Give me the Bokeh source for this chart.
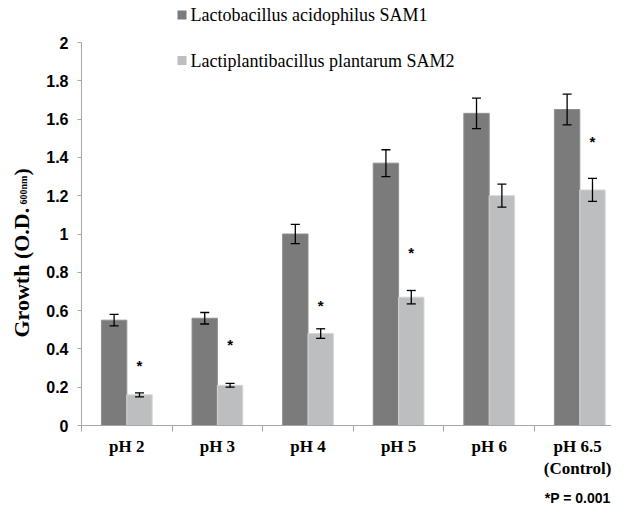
import math
from bokeh.plotting import figure
from bokeh.models import (ColumnDataSource, Range1d, FixedTicker, Whisker, TeeHead)
from bokeh.core.properties import value
from bokeh.embed import file_html
from bokeh.resources import INLINE

# ---- data ----
categories = ["pH 2", "pH 3", "pH 4", "pH 5", "pH 6", "pH 6.5\n(Control)"]
sam1 = [0.55, 0.56, 1.00, 1.37, 1.63, 1.65]
sam1_err = [0.03, 0.03, 0.05, 0.07, 0.08, 0.08]
sam2 = [0.16, 0.21, 0.48, 0.67, 1.20, 1.23]
sam2_err = [0.01, 0.01, 0.025, 0.035, 0.06, 0.06]
star_y = [0.33, 0.44, 0.64, 0.92, None, 1.50]
y_ticks = [0, 0.2, 0.4, 0.6, 0.8, 1.0, 1.2, 1.4, 1.6, 1.8, 2.0]
y_tick_labels = ["0", "0.2", "0.4", "0.6", "0.8", "1", "1.2", "1.4", "1.6", "1.8", "2"]
series_names = ["Lactobacillus acidophilus SAM1", "Lactiplantibacillus plantarum SAM2"]
y_title_parts = ["Growth (O.D.", "600nm", ")"]
note_text = "*P = 0.001"

DARK = "#7b7b7b"
LIGHT = "#bdbec0"
AXIS = "#a6a6a6"
BW = 0.28

W, H = 611, 505
X0, Y0 = 81, 425          # canvas pixel of the axes origin
SX, SY = 90.6, 191.5      # pixels per data unit


def dx(px):
    return (px - X0) / SX


def dy(py):
    return (Y0 - py) / SY


n = len(categories)
centers = [i + 0.5 for i in range(n)]
x1 = [c - BW / 2 for c in centers]
x2 = [c + BW / 2 for c in centers]

src1 = ColumnDataSource(dict(x=x1, top=sam1,
                             upper=[v + e for v, e in zip(sam1, sam1_err)],
                             lower=[v - e for v, e in zip(sam1, sam1_err)]))
src2 = ColumnDataSource(dict(x=x2, top=sam2,
                             upper=[v + e for v, e in zip(sam2, sam2_err)],
                             lower=[v - e for v, e in zip(sam2, sam2_err)]))
star_src = ColumnDataSource(dict(
    x=[x2[i] for i in range(n) if star_y[i] is not None],
    y=[s for s in star_y if s is not None],
    t=["*" for s in star_y if s is not None]))

p = figure(width=W, height=H,
           min_border_left=0, min_border_right=0, min_border_top=0, min_border_bottom=0,
           x_range=Range1d(dx(0), dx(W)), y_range=Range1d(dy(H), dy(0)),
           output_backend="svg", toolbar_location=None)
p.outline_line_color = None
p.xgrid.visible = False
p.ygrid.visible = False
p.background_fill_color = "white"
p.border_fill_color = "white"

p.vbar(x="x", top="top", width=BW, source=src1, fill_color=DARK, line_color="#8e8e8e",
       line_width=1)
p.vbar(x="x", top="top", width=BW, source=src2, fill_color=LIGHT, line_color="#d4d5d6",
       line_width=1)

for s in (src1, src2):
    w = Whisker(base="x", upper="upper", lower="lower", source=s, level="overlay",
                line_color="black", line_width=1.3,
                upper_head=TeeHead(size=9, line_color="black", line_width=1.3),
                lower_head=TeeHead(size=9, line_color="black", line_width=1.3))
    p.add_layout(w)

p.text(x="x", y="y", text="t", source=star_src, text_align="center",
       text_baseline="alphabetic", y_offset=3,
       text_font=value("Liberation Sans"), text_font_style="bold",
       text_font_size="15px", text_color="black")

# y axis (fixed at x = 0)
ya = p.yaxis[0]
ya.fixed_location = 0
ya.ticker = FixedTicker(ticks=y_ticks)
ya.major_label_overrides = {t: l for t, l in zip(y_ticks, y_tick_labels)}
ya.bounds = (0, 2)
ya.axis_line_color = AXIS
ya.major_tick_line_color = AXIS
ya.major_tick_out = 4
ya.major_tick_in = 0
ya.minor_tick_line_color = None
ya.major_label_standoff = 9
ya.major_label_text_font = "Liberation Sans"
ya.major_label_text_font_style = "bold"
ya.major_label_text_font_size = "16px"
ya.major_label_text_color = "black"

# x axis (fixed at y = 0)
xa = p.xaxis[0]
xa.fixed_location = 0
xa.ticker = FixedTicker(ticks=centers, minor_ticks=list(range(n)))
xa.major_label_overrides = {c: l for c, l in zip(centers, categories)}
xa.bounds = (0, dx(W))
xa.axis_line_color = AXIS
xa.major_tick_line_color = None
xa.major_tick_out = 0
xa.major_tick_in = 0
xa.minor_tick_line_color = AXIS
xa.minor_tick_out = 6
xa.minor_tick_in = 0
xa.major_label_standoff = 5
xa.major_label_text_font = "Liberation Serif"
xa.major_label_text_font_style = "bold"
xa.major_label_text_font_size = "17px"
xa.major_label_text_color = "black"

# legend (drawn as key squares + serif text)
leg_rows = [14.5, 60]
p.scatter(x=[dx(181.5)] * 2, y=[dy(r) for r in leg_rows], marker="square", size=9,
          fill_color=[DARK, LIGHT], line_color=None)
p.text(x=[dx(190)] * 2, y=[dy(r) for r in leg_rows], text=series_names,
       text_align="left", text_baseline="middle",
       text_font=value("Liberation Serif"), text_font_size="18px", text_color="black")

# y-axis title with subscript (rotated text pieces)
p.text(x=[dx(21)], y=[dy(337)], text=[y_title_parts[0]], angle=math.pi / 2,
       text_align="left", text_baseline="alphabetic",
       text_font=value("Liberation Serif"), text_font_style="bold",
       text_font_size="22px", text_color="black")
p.text(x=[dx(23)], y=[dy(204)], text=[y_title_parts[1]], angle=math.pi / 2,
       text_align="left", text_baseline="alphabetic",
       text_font=value("Liberation Serif"), text_font_style="bold",
       text_font_size="10px", text_color="black")
p.text(x=[dx(21)], y=[dy(175)], text=[y_title_parts[2]], angle=math.pi / 2,
       text_align="left", text_baseline="alphabetic",
       text_font=value("Liberation Serif"), text_font_style="bold",
       text_font_size="22px", text_color="black")

p.text(x=[dx(610)], y=[dy(497)], text=[note_text], text_align="right",
       text_baseline="alphabetic",
       text_font=value("Liberation Sans"), text_font_style="bold",
       text_font_size="14px", text_color="black")

open("out.html", "w").write(file_html(p, INLINE))
